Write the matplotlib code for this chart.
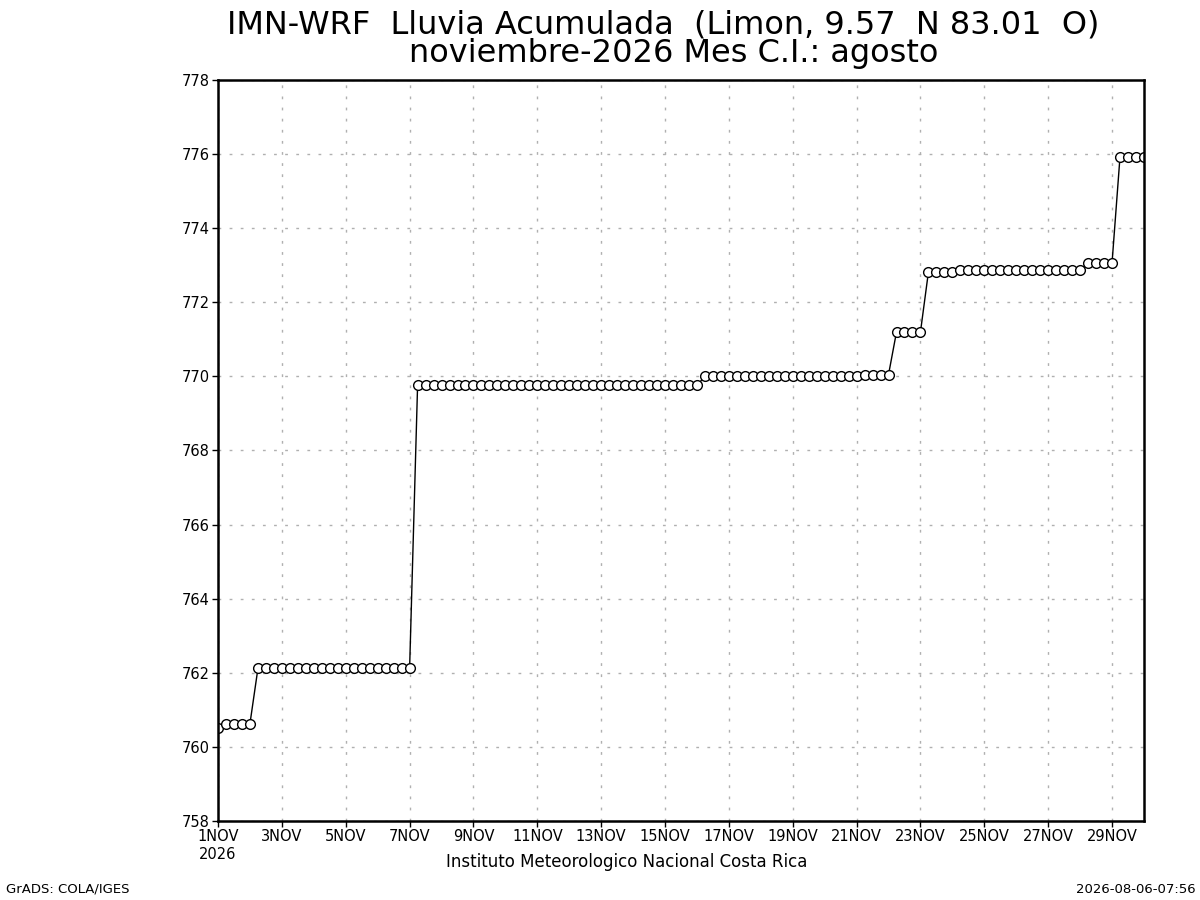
import matplotlib
matplotlib.use("Agg")
import matplotlib.pyplot as plt
import pandas as pd

# ================== DATOS (lluvia acumulada cada 6 h, mm) ==================
start = "2026-11-01 00:00"
lluvia = [
    760.50, 760.63, 760.63, 760.63,   # 1NOV
    760.63, 762.12, 762.12, 762.12,   # 2NOV
    762.12, 762.12, 762.12, 762.12,   # 3NOV
    762.12, 762.12, 762.12, 762.12,   # 4NOV
    762.12, 762.12, 762.12, 762.12,   # 5NOV
    762.12, 762.12, 762.12, 762.12,   # 6NOV
    762.12, 769.76, 769.76, 769.76,   # 7NOV
    769.76, 769.76, 769.76, 769.76,   # 8NOV
    769.76, 769.76, 769.76, 769.76,   # 9NOV
    769.76, 769.76, 769.76, 769.76,   # 10NOV
    769.76, 769.76, 769.76, 769.76,   # 11NOV
    769.76, 769.76, 769.76, 769.76,   # 12NOV
    769.76, 769.76, 769.76, 769.76,   # 13NOV
    769.76, 769.76, 769.76, 769.76,   # 14NOV
    769.76, 769.76, 769.76, 769.76,   # 15NOV
    769.76, 770.00, 770.00, 770.00,   # 16NOV
    770.00, 770.00, 770.00, 770.00,   # 17NOV
    770.00, 770.00, 770.00, 770.00,   # 18NOV
    770.00, 770.00, 770.00, 770.00,   # 19NOV
    770.00, 770.00, 770.00, 770.00,   # 20NOV
    770.00, 770.05, 770.05, 770.05,   # 21NOV
    770.05, 771.20, 771.20, 771.20,   # 22NOV
    771.20, 772.82, 772.82, 772.82,   # 23NOV
    772.82, 772.88, 772.88, 772.88,   # 24NOV
    772.88, 772.88, 772.88, 772.88,   # 25NOV
    772.88, 772.88, 772.88, 772.88,   # 26NOV
    772.88, 772.88, 772.88, 772.88,   # 27NOV
    772.88, 773.06, 773.06, 773.06,   # 28NOV
    773.06, 775.93, 775.93, 775.93,   # 29NOV
    775.93,                           # 30NOV
]
fechas = pd.date_range(start, periods=len(lluvia), freq="6h")

y_ticks = list(range(758, 779, 2))
x_ticks = pd.date_range("2026-11-01", "2026-11-29", freq="2D")
x_labels = [f"{d.day}NOV" for d in x_ticks]
x_labels[0] = "1NOV\n2026"

titulo1 = "IMN-WRF  Lluvia Acumulada  (Limon, 9.57  N 83.01  O)"
titulo2 = "noviembre-2026 Mes C.I.: agosto"

# ================== FIGURA ==================
fig = plt.figure(figsize=(12, 9), dpi=100)
ax = fig.add_axes([0.1817, 0.0878, 0.7716, 0.8233])

ax.plot(fechas, lluvia, color="black", lw=1.0, marker="o", ms=7,
        mfc="white", mec="black", mew=1.0)

ax.set_xlim(fechas[0], fechas[-1])
ax.set_ylim(758, 778)
ax.set_yticks(y_ticks)
ax.set_yticklabels([str(v) for v in y_ticks])
ax.set_xticks(x_ticks)
ax.set_xticklabels(x_labels, ha="center")
ax.tick_params(labelsize=10.5, length=4, width=1, direction="out", pad=2)

ax.grid(True, color="#b0b0b0", linestyle=(0, (2, 6)), lw=1)
for s in ax.spines.values():
    s.set_linewidth(1.8)

fig.text(0.553, 0.963, titulo1, ha="center", va="baseline", fontsize=23)
fig.text(0.561, 0.931, titulo2, ha="center", va="baseline", fontsize=23)
fig.text(0.522, 0.042, "Instituto Meteorologico Nacional Costa Rica",
         ha="center", va="center", fontsize=12)
fig.text(0.005, 0.012, "GrADS: COLA/IGES", ha="left", va="center", fontsize=9.5)
fig.text(0.996, 0.012, "2026-08-06-07:56", ha="right", va="center", fontsize=9.5)

fig.savefig("out.png", dpi=100, facecolor="white")
